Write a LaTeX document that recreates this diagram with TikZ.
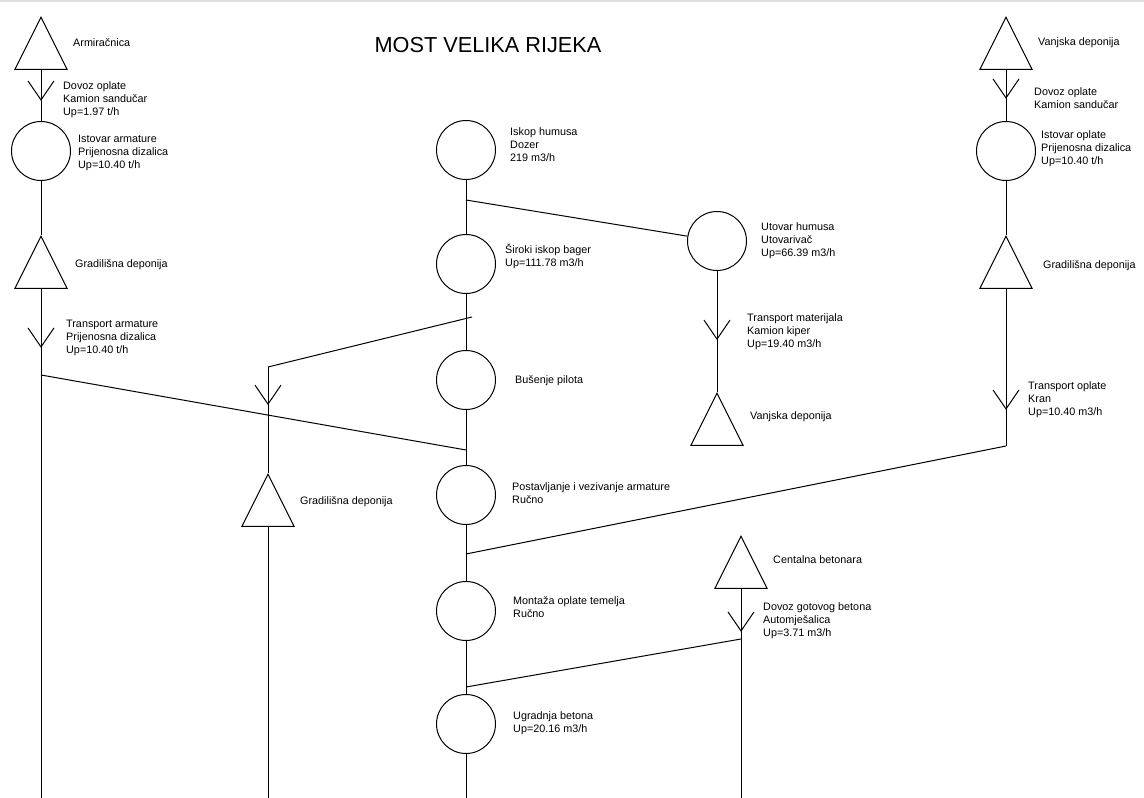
\documentclass[tikz,border=0pt]{standalone}
\usepackage{fontspec}
\setmainfont{Liberation Sans}
\usepackage{tikz}
\usetikzlibrary{
    shapes.geometric,
    arrows.meta,
    decorations.markings
}
\tikzstyle{operation} = [
    circle,
    draw,
    line width=1pt,
    minimum size=59pt,
    inner sep=0pt
]
\tikzstyle{link} = [
    line width=1pt
]

\begin{document}
\begin{tikzpicture}[
    x=1pt, y=-1pt,
    depot/.style={isosceles triangle, isosceles triangle stretches, shape border rotate=90, draw, line width=1pt, minimum width=52pt, minimum height=52pt, inner sep=0pt, anchor=apex},
    lbl/.style={anchor=west, align=left, inner sep=0pt, font=\fontsize{10.8}{13}\selectfont},
    flow/.style={link, postaction={decorate}, decoration={markings, mark=at position #1 with {\arrow{Straight Barb[length=19pt,width=26pt]}}}}
]
    \useasboundingbox (0,0) rectangle (1144,798);
    \draw[gray!25, line width=1.5pt] (0,1) -- (1144,1);

    % Naslov
    \node[font=\fontsize{21.7}{26}\selectfont] (title) at (488,45) {MOST VELIKA RIJEKA};

    % Armatura
    \node[depot] (armir) at (41,16) {};
    \node[operation] (istarm) at (41,151) {};
    \node[depot] (gradL) at (41,235) {};
    \coordinate (jL) at (41,375);
    \coordinate (bL) at (41,800);
    \node[lbl] (armir-l) at (73,43) {Armiračnica};
    \node[lbl] (dovarm-l) at (63,100) {Dovoz oplate\\Kamion sandučar\\Up=1.97 t/h};
    \node[lbl] (istarm-l) at (78,153) {Istovar armature\\Prijenosna dizalica\\Up=10.40 t/h};
    \node[lbl] (gradL-l) at (75,265) {Gradilišna deponija};
    \node[lbl] (trarm-l) at (66,338) {Transport armature\\Prijenosna dizalica\\Up=10.40 t/h};

    % Glavni tok
    \node[operation] (iskop) at (466,150) {};
    \coordinate (jA) at (466,200);
    \node[operation] (sirok) at (466,264) {};
    \coordinate (jB) at (472,317);
    \node[operation] (busen) at (466,380) {};
    \coordinate (jC) at (466,450);
    \node[operation] (postav) at (466,495) {};
    \coordinate (jD) at (466,554);
    \node[operation] (montaza) at (466,611) {};
    \coordinate (jE) at (466,687);
    \node[operation] (ugradnja) at (466,724) {};
    \coordinate (bC) at (466,800);
    \node[lbl] (iskop-l) at (510,145) {Iskop humusa\\Dozer\\219 m3/h};
    \node[lbl] (sirok-l) at (505,256) {Široki iskop bager\\Up=111.78 m3/h};
    \node[lbl] (busen-l) at (515,381) {Bušenje pilota};
    \node[lbl] (postav-l) at (512,493) {Postavljanje i vezivanje armature\\Ručno};
    \node[lbl] (montaza-l) at (513,607) {Montaža oplate temelja\\Ručno};
    \node[lbl] (ugradnja-l) at (513,723) {Ugradnja betona\\Up=20.16 m3/h};

    % Humus
    \node[operation] (utovar) at (717,241) {};
    \node[depot] (vanjD) at (717,392) {};
    \node[lbl] (utovar-l) at (761,241) {Utovar humusa\\Utovarivač\\Up=66.39 m3/h};
    \node[lbl] (trmat-l) at (747,332) {Transport materijala\\Kamion kiper\\Up=19.40 m3/h};
    \node[lbl] (vanjD-l) at (750,417) {Vanjska deponija};

    % Deponija pilota
    \coordinate (jF) at (268,367);
    \node[depot] (gradM) at (268,473) {};
    \coordinate (bM) at (268,800);
    \node[lbl] (gradM-l) at (300,502) {Gradilišna deponija};

    % Beton
    \node[depot] (beton) at (741,535) {};
    \coordinate (jG) at (741,639);
    \coordinate (bB) at (741,800);
    \node[lbl] (beton-l) at (773,560) {Centalna betonara};
    \node[lbl] (dovbet-l) at (763,621) {Dovoz gotovog betona\\Automješalica\\Up=3.71 m3/h};

    % Oplata
    \node[depot] (vanj) at (1006,16) {};
    \node[operation] (istopl) at (1006,151) {};
    \node[depot] (gradR) at (1006,235) {};
    \coordinate (jR) at (1006,446);
    \node[lbl] (vanj-l) at (1038,43) {Vanjska deponija};
    \node[lbl] (dovopl-l) at (1034,98) {Dovoz oplate\\Kamion sandučar};
    \node[lbl] (istopl-l) at (1041,149) {Istovar oplate\\Prijenosna dizalica\\Up=10.40 t/h};
    \node[lbl] (gradR-l) at (1043,266) {Gradilišna deponija};
    \node[lbl] (tropl-l) at (1028,400) {Transport oplate\\Kran\\Up=10.40 m3/h};

    % Veze
    \draw[flow=31pt] (armir.south) -- (istarm);
    \draw[link] (istarm) -- (gradL.apex);
    \draw[flow=59pt] (gradL.south) -- (bL);
    \draw[link] (jL) -- (jC);
    \draw[link] (iskop) -- (sirok);
    \draw[link] (jA) -- (utovar);
    \draw[link] (sirok) -- (busen);
    \draw[link] (jB) -- (jF);
    \draw[flow=38pt] (jF) -- (gradM.apex);
    \draw[link] (gradM.south) -- (bM);
    \draw[link] (busen) -- (postav);
    \draw[link] (postav) -- (montaza);
    \draw[link] (montaza) -- (ugradnja);
    \draw[link] (ugradnja) -- (bC);
    \draw[flow=69pt] (utovar) -- (vanjD.apex);
    \draw[flow=43pt] (beton.south) -- (bB);
    \draw[link] (jG) -- (jE);
    \draw[flow=29pt] (vanj.south) -- (istopl);
    \draw[link] (istopl) -- (gradR.apex);
    \draw[flow=121pt] (gradR.south) -- (jR);
    \draw[link] (jR) -- (jD);

\end{tikzpicture}
\end{document}
